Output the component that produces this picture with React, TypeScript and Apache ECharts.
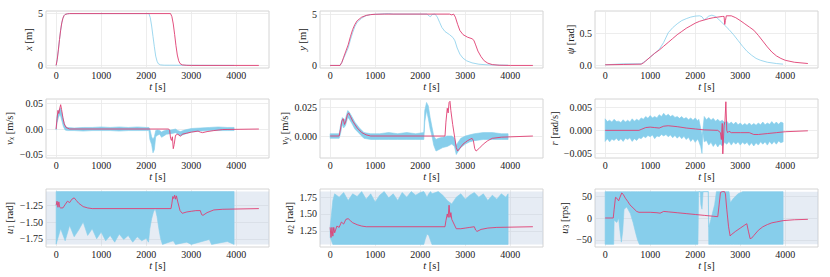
import React, { useEffect, useRef } from 'react';
import * as echarts from 'echarts';

const FONT = 'Liberation Serif';
const RED = 'rgba(224, 62, 114, 0.9)';
const BLUE_LINE = 'rgba(135, 206, 235, 0.8)';
const BAND = '#87ceeb';
const SHADE = 'rgba(176, 196, 222, 0.32)';

// ---- axis ticks ----
const timeTicks = [0, 1000, 2000, 3000, 4000];
const xTicks = [0, 5];
const yTicks = [0, 5];
const psiTicks = [0, 0.5];
const vxTicks = [-0.05, 0, 0.05];
const vyTicks = [0, 0.025];
const rTicks = [-0.005, 0, 0.005];
const u1Ticks = [-1.75, -1.5, -1.25];
const u2Ticks = [1.25, 1.5, 1.75];
const u3Ticks = [-50, 0, 50];

// ---- constraint limits (bottom row) ----
const u1Limits = [-1.833, -1.047];
const u2Limits = [1.047, 1.833];
const u3Limits = [-60, 60];

// ---- row 1: positions ----
const xRed = [[0,0],[25,0.6],[50,1.5],[75,2.5],[100,3.4],[125,4.1],[150,4.55],[175,4.8],[200,4.92],[250,4.98],[300,5],[2540,5],[2570,4.7],[2600,4.0],[2630,3.0],[2660,1.9],[2690,1.0],[2720,0.45],[2750,0.18],[2800,0.05],[2900,0.01],[3000,0],[4500,0]];
const xBlue = [[0,0],[25,0.6],[50,1.5],[75,2.5],[100,3.4],[125,4.1],[150,4.55],[175,4.8],[200,4.92],[250,4.98],[300,5],[2060,5],[2090,4.6],[2120,3.8],[2150,2.8],[2180,1.8],[2210,0.9],[2240,0.4],[2270,0.15],[2320,0.05],[2400,0.02],[3950,0]];

const yRed = [[0,0],[220,0],[260,0.3],[300,0.8],[350,1.4],[400,2.0],[450,2.8],[500,3.5],[550,4.0],[600,4.35],[700,4.7],[800,4.87],[900,4.95],[1000,4.98],[1200,5],[2650,5],[2700,4.92],[2740,5],[2780,4.7],[2830,4.0],[2880,3.4],[2950,3.0],[3050,2.75],[3150,2.6],[3190,2.45],[3230,2.0],[3280,1.4],[3350,0.85],[3420,0.45],[3500,0.22],[3600,0.08],[3750,0.02],[4000,0],[4500,0]];
const yBlue = [[0,0],[220,0],[260,0.3],[300,0.7],[350,1.2],[400,1.7],[450,2.5],[500,3.2],[550,3.8],[600,4.2],[700,4.6],[800,4.85],[900,4.95],[1000,4.98],[1300,5.05],[1400,5.0],[2150,5.0],[2200,4.8],[2230,4.75],[2260,4.95],[2330,5.0],[2380,4.7],[2430,4.2],[2480,3.7],[2550,3.3],[2650,3.0],[2730,2.7],[2770,2.4],[2820,1.7],[2880,1.1],[2950,0.7],[3030,0.45],[3150,0.25],[3300,0.12],[3500,0.05],[3950,0.02]];

const psiRed = [[0,0.01],[400,0.015],[800,0.02],[850,0.04],[900,0.07],[1000,0.13],[1100,0.19],[1200,0.24],[1300,0.3],[1400,0.36],[1500,0.42],[1600,0.48],[1700,0.53],[1800,0.58],[1900,0.62],[2000,0.66],[2100,0.69],[2200,0.71],[2300,0.73],[2400,0.745],[2500,0.755],[2600,0.765],[2640,0.765],[2655,0.64],[2670,0.7],[2690,0.775],[2800,0.775],[2900,0.745],[3000,0.7],[3100,0.65],[3200,0.6],[3300,0.55],[3400,0.47],[3500,0.38],[3600,0.29],[3700,0.21],[3800,0.15],[3900,0.11],[4000,0.08],[4200,0.05],[4500,0.03]];
const psiBlue = [[0,0.01],[400,0.025],[800,0.025],[900,0.07],[1000,0.13],[1100,0.19],[1200,0.25],[1300,0.36],[1400,0.51],[1500,0.59],[1600,0.65],[1700,0.7],[1800,0.73],[1900,0.755],[2000,0.77],[2100,0.775],[2150,0.76],[2200,0.71],[2250,0.74],[2300,0.77],[2370,0.785],[2450,0.765],[2550,0.7],[2650,0.63],[2750,0.56],[2850,0.48],[2950,0.39],[3050,0.3],[3150,0.22],[3250,0.16],[3350,0.11],[3450,0.08],[3600,0.05],[3800,0.03],[3950,0.02]];

// ---- row 2: velocities (red line, blue noisy band [t, lo, hi]) ----
const vxRed = [[0,0],[20,0.02],[40,0.036],[60,0.03],[80,0.04],[100,0.047],[120,0.038],[150,0.022],[180,0.01],[220,0.003],[300,0],[2500,0],[2520,-0.003],[2540,-0.018],[2560,-0.022],[2580,-0.015],[2600,-0.038],[2620,-0.03],[2650,-0.012],[2700,-0.01],[2760,-0.014],[2800,-0.01],[2900,-0.008],[3000,-0.006],[3150,-0.004],[3200,-0.006],[3250,-0.007],[3350,-0.005],[3500,-0.003],[3700,-0.001],[4500,0]];
const vxBand = [[0,-0.002,0.003],[20,0.012,0.025],[50,0.022,0.034],[80,0.028,0.04],[100,0.025,0.04],[130,0.015,0.03],[160,0.005,0.018],[200,-0.002,0.006],[250,-0.003,0.003],[400,-0.003,0.002],[600,-0.004,0.003],[800,-0.003,0.003],[1000,-0.003,0.004],[1200,-0.003,0.003],[1400,-0.004,0.004],[1600,-0.003,0.003],[1800,-0.003,0.004],[2000,-0.003,0.003],[2060,-0.003,0.003],[2080,-0.02,0.0],[2120,-0.03,-0.015],[2150,-0.046,-0.02],[2180,-0.04,-0.015],[2210,-0.015,-0.003],[2250,-0.012,-0.002],[2300,-0.01,-0.003],[2340,-0.016,-0.006],[2380,-0.014,-0.004],[2450,-0.01,-0.002],[2550,-0.009,-0.002],[2650,-0.007,0.0],[2700,-0.01,-0.003],[2760,-0.013,-0.005],[2850,-0.01,-0.002],[3000,-0.006,0.001],[3200,-0.004,0.002],[3400,-0.003,0.003],[3600,-0.003,0.004],[3800,-0.003,0.003],[3950,-0.003,0.003]];

const vyRed = [[0,0],[200,0],[230,0.006],[260,0.013],[290,0.015],[320,0.01],[350,0.013],[380,0.018],[410,0.02],[450,0.017],[500,0.013],[600,0.007],[700,0.003],[800,0.001],[900,0],[2550,0],[2570,0.012],[2600,0.024],[2620,0.02],[2640,0.029],[2660,0.03],[2680,0.022],[2720,0.01],[2760,0.0],[2800,-0.01],[2830,-0.013],[2870,-0.011],[2950,-0.007],[3050,-0.004],[3150,-0.002],[3180,-0.004],[3210,-0.011],[3240,-0.013],[3300,-0.011],[3400,-0.007],[3500,-0.004],[3600,-0.002],[3800,-0.001],[4500,0]];
const vyBand = [[0,-0.002,0.002],[200,-0.002,0.002],[230,0.002,0.009],[270,0.01,0.016],[300,0.007,0.014],[340,0.009,0.015],[390,0.016,0.022],[420,0.015,0.021],[480,0.011,0.017],[550,0.006,0.012],[650,0.002,0.007],[750,-0.002,0.003],[900,-0.003,0.002],[1100,-0.003,0.002],[1300,-0.003,0.003],[1500,-0.003,0.002],[1700,-0.003,0.003],[1900,-0.003,0.002],[2080,-0.003,0.003],[2100,0.012,0.022],[2140,0.022,0.029],[2180,0.015,0.026],[2220,0.006,0.016],[2260,0.0,0.008],[2300,-0.008,0.0],[2350,-0.013,-0.003],[2400,-0.012,-0.002],[2500,-0.01,-0.001],[2600,-0.009,0.0],[2700,-0.007,0.0],[2760,-0.009,-0.002],[2800,-0.016,-0.008],[2830,-0.014,-0.006],[2900,-0.01,-0.002],[3000,-0.007,0.0],[3100,-0.005,0.001],[3200,-0.004,0.002],[3400,-0.003,0.003],[3600,-0.003,0.003],[3800,-0.003,0.002],[3950,-0.003,0.002]];

const rRed = [[0,0],[750,0],[800,0.0002],[900,0.0006],[1000,0.0007],[1100,0.0006],[1200,0.0005],[1300,0.0009],[1400,0.001],[1600,0.0008],[1800,0.0005],[2000,0.0003],[2200,0.0001],[2500,0],[2560,-0.0005],[2580,-0.002],[2600,0.0015],[2612,-0.0051],[2640,0.001],[2660,0.002],[2680,0.0062],[2700,0.0],[2720,-0.0005],[2750,-0.0002],[2800,-0.0005],[3000,-0.0005],[3200,-0.0005],[3300,-0.0009],[3400,-0.0009],[3600,-0.0007],[3800,-0.0005],[4000,-0.0003],[4500,-0.0001]];
const rBand = [[0,-0.0024,0.0025],[50,-0.0018,0.0019],[100,-0.0025,0.0022],[150,-0.0019,0.0018],[200,-0.0022,0.0024],[250,-0.0017,0.0019],[300,-0.0023,0.002],[350,-0.0018,0.0017],[400,-0.0024,0.0023],[450,-0.0017,0.0018],[500,-0.002,0.0022],[550,-0.0016,0.0018],[600,-0.0024,0.0025],[650,-0.0018,0.002],[700,-0.0022,0.0024],[750,-0.0016,0.0021],[800,-0.0018,0.0027],[850,-0.0013,0.0024],[900,-0.0016,0.003],[950,-0.0011,0.0026],[1000,-0.0014,0.0032],[1050,-0.001,0.0027],[1100,-0.0018,0.003],[1150,-0.0012,0.0027],[1200,-0.0014,0.0034],[1250,-0.0009,0.003],[1300,-0.0012,0.0037],[1350,-0.0009,0.0031],[1400,-0.0014,0.0035],[1450,-0.001,0.003],[1500,-0.0016,0.0033],[1550,-0.0011,0.0028],[1600,-0.0017,0.003],[1650,-0.0012,0.0026],[1700,-0.0018,0.003],[1750,-0.0013,0.0025],[1800,-0.002,0.0028],[1850,-0.0015,0.0023],[1900,-0.0024,0.0027],[1950,-0.0018,0.0022],[2000,-0.0026,0.0027],[2050,-0.0019,0.0021],[2080,-0.0024,0.0024],[2120,-0.0035,0.0005],[2150,-0.005,-0.001],[2170,-0.0005,0.0002],[2200,-0.0025,0.003],[2250,-0.0022,0.0023],[2300,-0.0032,0.0028],[2350,-0.0026,0.0022],[2400,-0.0035,0.0026],[2450,-0.0028,0.002],[2500,-0.0036,0.0024],[2550,-0.0029,0.0019],[2600,-0.0034,0.0022],[2650,-0.0026,0.0017],[2700,-0.003,0.002],[2750,-0.0024,0.0014],[2800,-0.0032,0.0018],[2850,-0.0025,0.0013],[2900,-0.003,0.0018],[2950,-0.0025,0.0012],[3000,-0.0032,0.0016],[3050,-0.0026,0.0011],[3100,-0.003,0.0015],[3150,-0.0026,0.0011],[3200,-0.0033,0.0016],[3250,-0.0027,0.0011],[3300,-0.0034,0.0015],[3350,-0.0027,0.0011],[3400,-0.0032,0.0016],[3450,-0.0025,0.0012],[3500,-0.003,0.0018],[3550,-0.0025,0.0012],[3600,-0.0032,0.0016],[3650,-0.0024,0.0013],[3700,-0.003,0.0019],[3750,-0.0024,0.0013],[3800,-0.003,0.0018],[3850,-0.0023,0.0013],[3900,-0.0027,0.0018],[3950,-0.0025,0.0016]];

// ---- row 3: inputs ----
const u1Red = [[0,-1.25],[20,-1.19],[40,-1.28],[60,-1.2],[80,-1.28],[100,-1.29],[150,-1.29],[200,-1.24],[250,-1.19],[300,-1.21],[350,-1.16],[400,-1.14],[450,-1.18],[500,-1.22],[600,-1.27],[700,-1.29],[800,-1.3],[2550,-1.3],[2570,-1.22],[2590,-1.12],[2610,-1.15],[2630,-1.1],[2650,-1.16],[2670,-1.11],[2700,-1.2],[2750,-1.33],[2800,-1.37],[2900,-1.35],[3000,-1.34],[3100,-1.33],[3200,-1.33],[3230,-1.39],[3260,-1.4],[3350,-1.36],[3500,-1.32],[3700,-1.31],[4500,-1.3]];
const u1Band = [[0,-1.83,-1.047],[100,-1.6,-1.047],[200,-1.78,-1.047],[300,-1.55,-1.047],[400,-1.72,-1.047],[500,-1.62,-1.047],[600,-1.5,-1.047],[700,-1.7,-1.047],[800,-1.6,-1.047],[900,-1.75,-1.047],[1000,-1.65,-1.047],[1100,-1.78,-1.047],[1200,-1.7,-1.047],[1300,-1.8,-1.047],[1400,-1.68,-1.047],[1500,-1.76,-1.047],[1600,-1.7,-1.047],[1700,-1.8,-1.047],[1800,-1.72,-1.047],[1900,-1.78,-1.047],[2000,-1.74,-1.047],[2050,-1.8,-1.047],[2080,-1.6,-1.047],[2120,-1.45,-1.047],[2160,-1.35,-1.047],[2200,-1.3,-1.047],[2240,-1.42,-1.047],[2280,-1.6,-1.047],[2320,-1.75,-1.047],[2360,-1.833,-1.047],[2600,-1.78,-1.047],[2650,-1.833,-1.047],[2900,-1.8,-1.047],[3000,-1.833,-1.047],[3400,-1.76,-1.047],[3450,-1.833,-1.047],[3800,-1.79,-1.047],[3950,-1.833,-1.047]];

const u2Red = [[0,1.3],[20,1.15],[40,1.3],[60,1.17],[80,1.3],[100,1.22],[150,1.32],[200,1.3],[250,1.38],[300,1.35],[350,1.42],[400,1.43],[450,1.4],[500,1.37],[600,1.34],[700,1.32],[800,1.31],[2550,1.31],[2570,1.4],[2600,1.5],[2620,1.45],[2640,1.63],[2660,1.45],[2680,1.52],[2700,1.42],[2750,1.35],[2800,1.28],[2900,1.28],[3000,1.29],[3100,1.3],[3200,1.31],[3230,1.26],[3260,1.24],[3350,1.27],[3500,1.29],[3700,1.3],[4500,1.31]];
const u2Band = [[0,1.15,1.3],[30,1.1,1.5],[60,1.047,1.7],[100,1.047,1.8],[200,1.047,1.75],[300,1.047,1.82],[400,1.047,1.7],[500,1.047,1.8],[600,1.047,1.76],[700,1.047,1.833],[800,1.047,1.72],[900,1.047,1.8],[1000,1.047,1.68],[1100,1.047,1.78],[1200,1.047,1.833],[1300,1.047,1.74],[1400,1.047,1.8],[1500,1.047,1.7],[1600,1.047,1.82],[1700,1.047,1.75],[1800,1.047,1.833],[1900,1.047,1.78],[2000,1.047,1.82],[2080,1.047,1.833],[2110,1.12,1.8],[2150,1.2,1.75],[2190,1.18,1.8],[2230,1.1,1.833],[2260,1.047,1.8],[2400,1.047,1.833],[2500,1.047,1.78],[2600,1.047,1.7],[2700,1.047,1.65],[2800,1.047,1.75],[2900,1.047,1.8],[3000,1.047,1.72],[3100,1.047,1.78],[3200,1.047,1.82],[3300,1.047,1.75],[3400,1.047,1.8],[3500,1.047,1.7],[3600,1.047,1.78],[3700,1.047,1.72],[3800,1.047,1.8],[3900,1.047,1.75],[3950,1.047,1.8]];

const u3Red = [[0,0],[180,0],[200,20],[230,47],[260,45],[300,39],[340,50],[370,57],[400,54],[450,45],[500,38],[550,30],[620,23],[700,15],[750,13],[1000,13],[1150,12],[1220,11],[1300,15],[1400,14],[1600,12],[1800,10],[2000,8],[2200,6],[2400,4],[2500,3],[2530,30],[2560,58],[2600,60],[2650,60],[2670,55],[2700,20],[2740,-20],[2775,-41],[2800,-38],[2900,-30],[3000,-23],[3100,-16],[3145,-13],[3180,-30],[3218,-47],[3250,-46],[3300,-40],[3400,-28],[3500,-20],[3600,-15],[3700,-11],[3800,-9],[3950,-6],[4200,-4],[4500,-3]];
const u3Band = [[0,-60,60],[190,-60,60],[200,-5,60],[260,-10,60],[300,0,60],[330,-30,60],[360,-55,60],[390,-30,60],[420,20,60],[480,25,60],[560,10,60],[620,-10,60],[680,-35,60],[720,-50,60],[760,-60,60],[2060,-60,60],[2075,60,60],[2110,60,60],[2125,30,60],[2150,20,60],[2175,60,60],[2290,60,60],[2300,-60,-20],[2330,-60,-10],[2380,-60,10],[2430,-60,30],[2470,-60,60],[2750,-60,60],[2780,-60,35],[2850,-60,45],[2950,-60,55],[3050,-60,60],[3950,-60,60]];

// ---- panel layout ----
const colLeft = [46, 320, 595];
const rowTop = [11, 99, 189];
const rowH = [57, 59, 58];
const W = 223;

type Panel = {
  name: string; min: number; max: number; ticks: number[]; dec: number; gap: number;
  red: number[][]; blue?: number[][]; band?: number[][]; limits?: number[];
};

const panels: Panel[] = [
  { name: '{i|x} [m]', min: -0.25, max: 5.25, ticks: xTicks, dec: 0, gap: 11, red: xRed, blue: xBlue },
  { name: '{i|y} [m]', min: -0.25, max: 5.3, ticks: yTicks, dec: 0, gap: 7, red: yRed, blue: yBlue },
  { name: '{i|ψ} [rad]', min: -0.04, max: 0.85, ticks: psiTicks, dec: 1, gap: 13, red: psiRed, blue: psiBlue },
  { name: '{i|v}{s|x} [m/s]', min: -0.056, max: 0.058, ticks: vxTicks, dec: 2, gap: 25, red: vxRed, band: vxBand },
  { name: '{i|v}{s|y} [m/s]', min: -0.019, max: 0.032, ticks: vyTicks, dec: 3, gap: 22, red: vyRed, band: vyBand },
  { name: '{i|r} [rad/s]', min: -0.006, max: 0.0068, ticks: rTicks, dec: 3, gap: 28, red: rRed, band: rBand },
  { name: '{i|u}{n|1} [rad]', min: -1.872, max: -1.008, ticks: u1Ticks, dec: 2, gap: 26, red: u1Red, band: u1Band, limits: u1Limits },
  { name: '{i|u}{n|2} [rad]', min: 1.008, max: 1.872, ticks: u2Ticks, dec: 2, gap: 20, red: u2Red, band: u2Band, limits: u2Limits },
  { name: '{i|u}{n|3} [rps]', min: -66, max: 66, ticks: u3Ticks, dec: 0, gap: 25, red: u3Red, band: u3Band, limits: u3Limits },
];

const fmt = (v: number, dec: number) => {
  const s = Math.abs(v).toFixed(dec);
  return v < 0 ? '\u2212' + s : s;
};

function buildOption() {
  const grid: any[] = [];
  const xAxis: any[] = [];
  const yAxis: any[] = [];
  const series: any[] = [];
  const richBase = {
    i: { fontStyle: 'italic', fontFamily: FONT, fontSize: 10.5, color: '#222' },
    s: { fontStyle: 'italic', fontFamily: FONT, fontSize: 7.5, color: '#222', padding: [4, 0, 0, 0] },
    n: { fontFamily: FONT, fontSize: 7.5, color: '#222', padding: [4, 0, 0, 0] },
  };
  const labelStyle = { fontFamily: FONT, fontSize: 10.5, color: '#222' };
  panels.forEach((p, k) => {
    const row = Math.floor(k / 3);
    const col = k % 3;
    grid.push({
      left: colLeft[col], top: rowTop[row], width: W, height: rowH[row],
      show: true, borderColor: '#d4d4d4', borderWidth: 1, backgroundColor: 'transparent',
    });
    xAxis.push({
      type: 'value', gridIndex: k, min: -225, max: 4725,
      name: '{i|t} [s]', nameLocation: 'middle', nameGap: 10,
      nameTextStyle: { ...labelStyle, rich: richBase },
      axisLine: { show: false },
      axisTick: { show: false, customValues: timeTicks },
      axisLabel: { customValues: timeTicks, ...labelStyle, fontSize: 10, margin: 2, formatter: (v: number) => fmt(v, 0) },
      splitLine: { show: true, lineStyle: { color: '#e8e8e8', width: 0.8 } },
    });
    yAxis.push({
      type: 'value', gridIndex: k, min: p.min, max: p.max,
      name: p.name, nameLocation: 'middle', nameGap: p.gap,
      nameTextStyle: { ...labelStyle, rich: richBase },
      axisLine: { show: false },
      axisTick: { show: false, customValues: p.ticks },
      axisLabel: { customValues: p.ticks, ...labelStyle, fontSize: 10, margin: 3, formatter: (v: number) => fmt(v, p.dec) },
      splitLine: { show: true, lineStyle: { color: '#e8e8e8', width: 0.8 } },
    });
    if (p.limits) {
      series.push({
        type: 'line', xAxisIndex: k, yAxisIndex: k, z: 1, silent: true,
        data: p.red, showSymbol: false, lineStyle: { opacity: 0 },
        markArea: {
          silent: true, itemStyle: { color: SHADE },
          data: [[{ yAxis: p.limits[0] }, { yAxis: p.limits[1] }]],
        },
      });
    }
    if (p.band) {
      const band = p.band;
      series.push({
        type: 'custom', xAxisIndex: k, yAxisIndex: k, z: 2, silent: true,
        data: band.map((b) => [b[0], b[1], b[2]]),
        encode: { x: 0, y: [1, 2] },
        renderItem: (params: any, api: any) => {
          if (params.dataIndex !== 0) return null;
          const top = band.map((b) => api.coord([b[0], b[2]]));
          const bot = band.map((b) => api.coord([b[0], b[1]])).reverse();
          return {
            type: 'polygon',
            shape: { points: top.concat(bot) },
            style: { fill: BAND, stroke: BAND, lineWidth: 0.6 },
          };
        },
      });
    }
    if (p.blue) {
      series.push({
        type: 'line', xAxisIndex: k, yAxisIndex: k, z: 2, data: p.blue,
        showSymbol: false, lineStyle: { color: BLUE_LINE, width: 1 },
      });
    }
    series.push({
      type: 'line', xAxisIndex: k, yAxisIndex: k, z: 3, data: p.red,
      showSymbol: false, lineStyle: { color: RED, width: 1 },
    });
  });
  return {
    animation: false, backgroundColor: '#ffffff',
    textStyle: { fontFamily: FONT },
    grid, xAxis, yAxis, series,
  };
}

export default function App() {
  const ref = useRef<HTMLDivElement>(null);
  useEffect(() => {
    if (!ref.current) return;
    const chart = echarts.init(ref.current, undefined, { renderer: 'svg' });
    chart.setOption(buildOption() as any);
    return () => chart.dispose();
  }, []);
  return <div ref={ref} style={{ position: 'fixed', left: 0, top: 0, width: 830, height: 277 }} />;
}
